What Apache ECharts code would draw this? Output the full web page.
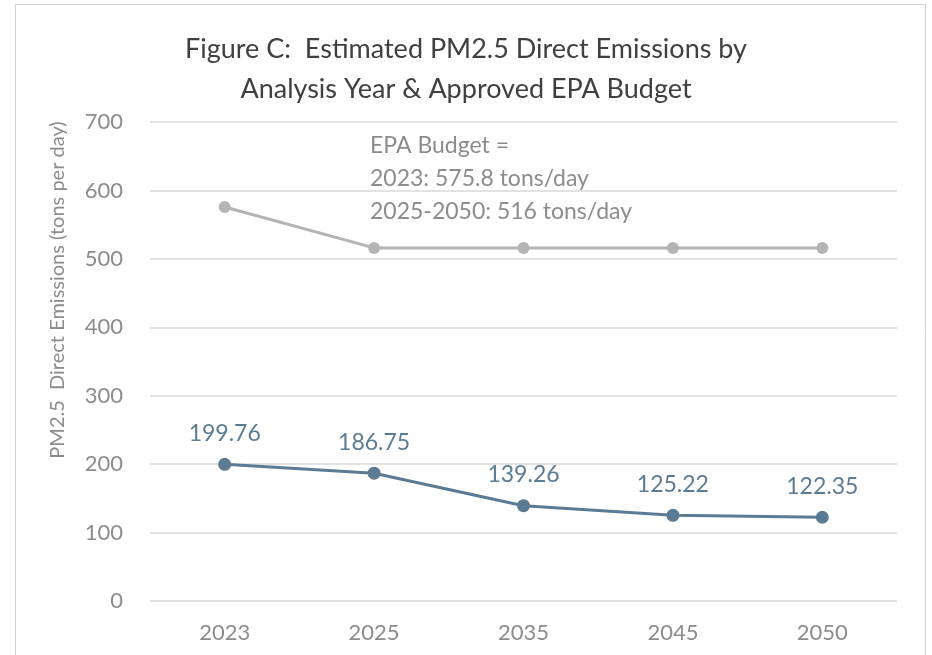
<!DOCTYPE html>
<html>
<head>
<meta charset="utf-8">
<script src="https://cdn.jsdelivr.net/npm/echarts@6/dist/echarts.min.js"></script>
<style>
  html, body { margin: 0; padding: 0; background: #fff; }
  #chart { width: 932px; height: 655px; }
</style>
</head>
<body>
<div id="chart"></div>
<script>
  // data
  const years = ['2023', '2025', '2035', '2045', '2050'];
  const emissions = [199.76, 186.75, 139.26, 125.22, 122.35];
  const epaBudget = [575.8, 516, 516, 516, 516];
  const yTicks = { min: 0, max: 700, interval: 100 };

  const font = 'Lato, "Open Sans", sans-serif';
  const grey = '#8c8c8c';

  const chart = echarts.init(document.getElementById('chart'));
  chart.setOption({
    animation: false,
    textStyle: { fontFamily: font },
    title: {
      text: 'Figure C:  Estimated PM2.5 Direct Emissions by\nAnalysis Year & Approved EPA Budget',
      left: 'center',
      top: 24,
      textStyle: {
        fontFamily: font,
        fontWeight: 'normal',
        fontSize: 27,
        color: '#404040',
        lineHeight: 40
      }
    },
    graphic: [
      {
        type: 'rect',
        shape: { x: 15.5, y: 4.5, width: 910, height: 700 },
        style: { fill: 'none', stroke: '#d0d0d0', lineWidth: 1 },
        silent: true
      },
      {
        type: 'text',
        x: 58,
        y: 290,
        rotation: Math.PI / 2,
        style: {
          text: 'PM2.5  Direct Emissions (tons per day)',
          fill: grey,
          font: '20px ' + font,
          align: 'center',
          verticalAlign: 'middle'
        }
      },
      {
        type: 'text',
        x: 370,
        y: 129,
        style: {
          text: 'EPA Budget =\n2023: 575.8 tons/day\n2025-2050: 516 tons/day',
          fill: grey,
          font: '23px ' + font,
          lineHeight: 33
        }
      }
    ],
    grid: {
      left: 150,
      right: 35,
      top: 122,
      bottom: 54
    },
    xAxis: {
      type: 'category',
      data: years,
      axisLine: { show: false },
      axisTick: { show: false },
      axisLabel: { color: grey, fontSize: 22, margin: 21 }
    },
    yAxis: {
      type: 'value',
      min: yTicks.min,
      max: yTicks.max,
      interval: yTicks.interval,
      axisLine: { show: false },
      axisTick: { show: false },
      axisLabel: { color: grey, fontSize: 22, margin: 27 },
      splitLine: { lineStyle: { color: '#d9d9d9', width: 1.5 } }
    },
    series: [
      {
        name: 'EPA Budget',
        type: 'line',
        data: epaBudget,
        symbol: 'circle',
        symbolSize: 12,
        lineStyle: { color: '#b4b4b4', width: 3 },
        itemStyle: { color: '#b4b4b4' }
      },
      {
        name: 'Emissions',
        type: 'line',
        data: emissions,
        symbol: 'circle',
        symbolSize: 13,
        lineStyle: { color: '#5b7b95', width: 3 },
        itemStyle: { color: '#5b7b95' },
        label: {
          show: true,
          position: 'top',
          distance: 13,
          color: '#5b7b95',
          fontSize: 23
        }
      }
    ]
  });
</script>
</body>
</html>
